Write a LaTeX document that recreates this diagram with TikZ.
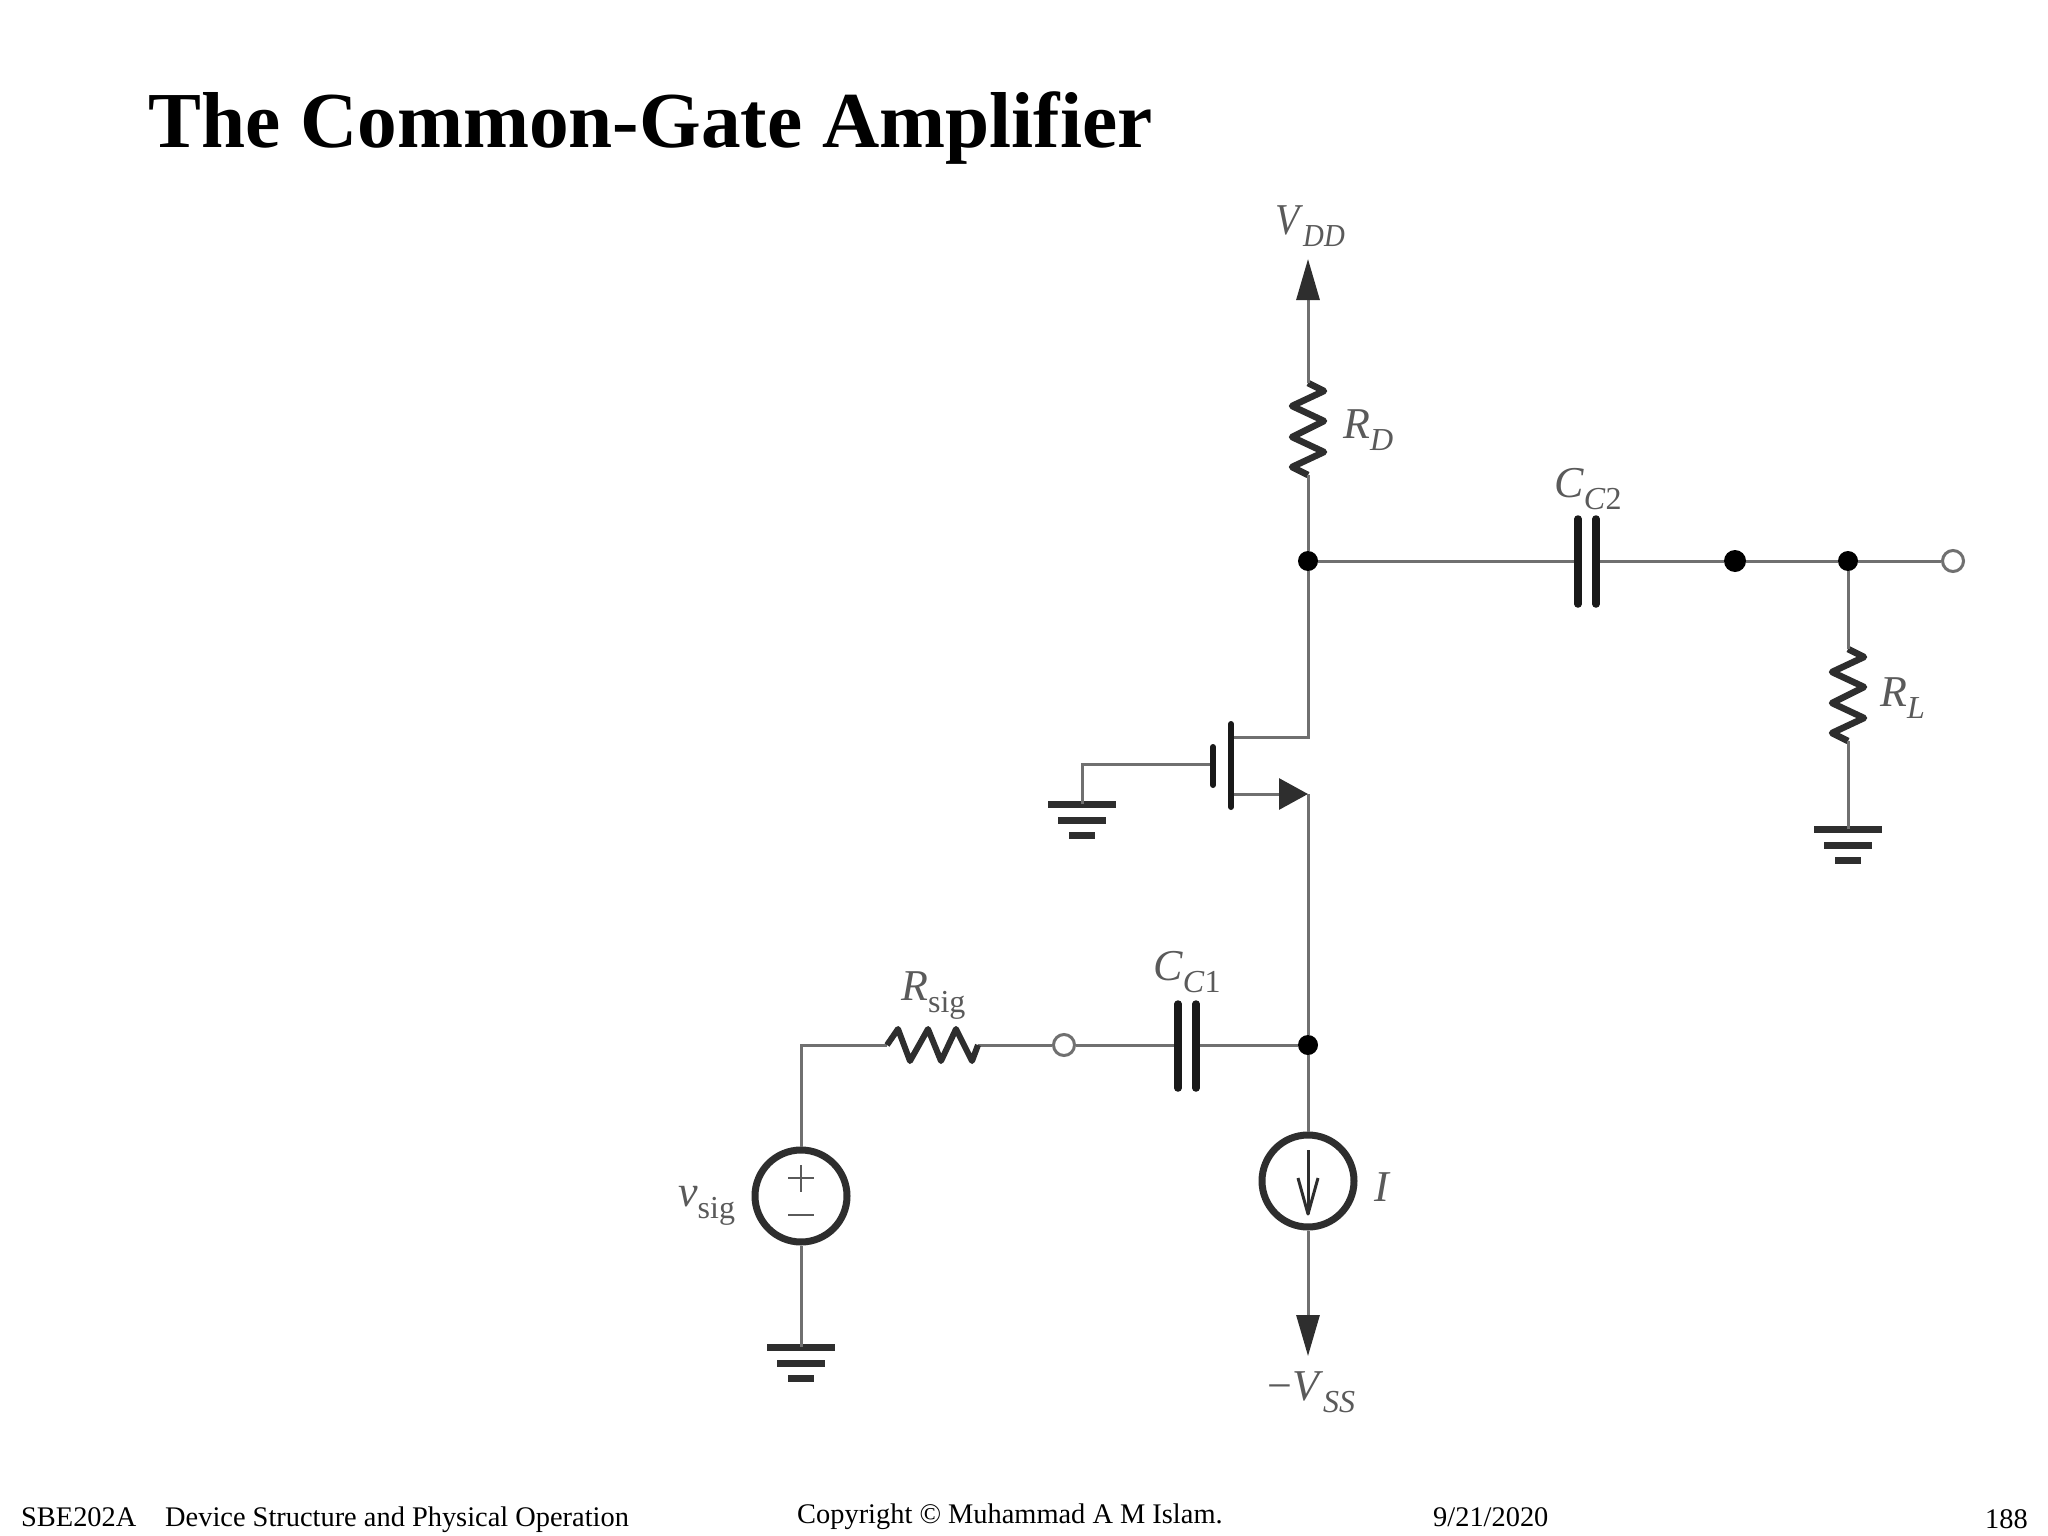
\documentclass[tikz,border=0pt]{standalone}
\usepackage{fontspec}
\setmainfont{Liberation Serif}
\usetikzlibrary{arrows.meta}
\definecolor{wirec}{HTML}{707070}
\definecolor{darkc}{HTML}{2E2E2E}
\definecolor{labc}{HTML}{5A5A5A}
\newcommand{\lab}[3][0.28em]{\fontsize{44}{50}\selectfont\textit{#2}\raisebox{-#1}{\fontsize{32}{36}\selectfont #3}}
\tikzset{
  x=1pt,y=-1pt,
  wire/.style={draw=wirec,line width=3pt},
  elem/.style={draw=darkc,line width=6.5pt,line join=round},
  plate/.style={draw=black!90,line width=7.5pt,line cap=round},
  dot/.style={circle,fill=black,inner sep=0pt,minimum size=#1},
  dot/.default=20pt,
  opendot/.style={circle,draw=wirec,fill=white,line width=3pt,inner sep=0pt,minimum size=21pt},
  src/.style={circle,draw=darkc,line width=7pt,inner sep=0pt,minimum size=92pt},
  lbl/.style={anchor=base west,inner sep=0pt,text=labc},
  foot/.style={anchor=base west,inner sep=0pt,font=\fontsize{28.4}{30}\selectfont},
  bigtip/.style={-{Triangle[length=41pt,width=23pt,color=darkc,fill=darkc]}},
  pics/vres/.style={code={
    \draw[elem] (0,-46) -- (16,-38) -- (-16,-23) -- (16,-8) -- (-16,8) -- (16,23) -- (-16,38) -- (0,46);
    \coordinate (-t) at (0,-46); \coordinate (-b) at (0,46);}},
  pics/gnd/.style={code={
    \draw[draw=darkc,line width=7pt] (-34,0) -- (34,0);
    \draw[draw=darkc,line width=7pt] (-24,16) -- (24,16);
    \draw[draw=darkc,line width=7pt] (-13,31) -- (13,31);
    \coordinate (-t) at (0,0);}}
}
\begin{document}
\begin{tikzpicture}
\useasboundingbox[fill=white] (0,0) rectangle (2048,1536);

% title and footer
\node[anchor=base west,inner sep=0pt,font=\fontsize{79.3}{88}\selectfont\bfseries] (title) at (148,148) {The Common-Gate Amplifier};
\node[foot] (f1) at (21,1526) {SBE202A};
\node[foot] (f2) at (165,1526) {Device Structure and Physical Operation};
\node[foot] (f3) at (797,1523) {Copyright © Muhammad A M Islam.};
\node[foot] (f4) at (1433,1526) {9/21/2020};
\node[foot] (f5) at (1985,1528) {188};

% key coordinates
\coordinate (vdd) at (1308,259);
\coordinate (vss) at (1308,1356);
\coordinate (corner) at (801,1045);
\coordinate (ggnd) at (1082,764);
\coordinate (drainc) at (1308,737);
\coordinate (srcc) at (1308,794);
\coordinate (chd) at (1231,737);
\coordinate (chs) at (1231,794);
\coordinate (gatep) at (1213,764);

% junctions
\node[dot] (nd) at (1308,561) {};
\node[dot=22pt] (no) at (1735,561) {};
\node[dot] (nl) at (1848,561) {};
\node[opendot] (out) at (1953,561) {};
\node[dot] (ns) at (1308,1045) {};
\node[opendot] (in) at (1064,1045) {};

% sources
\node[src] (vsig) at (801,1196) {};
\node[src] (isrc) at (1308,1181) {};

% resistors and grounds
\pic (rd) at (1308,429) {vres};
\pic (rl) at (1848,695) {vres};
\pic (g1) at (1082,804) {gnd};
\pic (g2) at (1848,829) {gnd};
\pic (g3) at (801,1347) {gnd};

% capacitors
\coordinate (c2a) at (1578,561); \coordinate (c2b) at (1596,561);
\coordinate (c1a) at (1178,1045); \coordinate (c1b) at (1196,1045);
\coordinate (rsa) at (887,1045); \coordinate (rsb) at (978,1045);

% wires
\draw[wire,bigtip] (rd-t) -- (vdd);
\draw[wire] (rd-b) -- (nd);
\draw[wire] (nd) -- (c2a);
\draw[wire] (c2b) -- (no);
\draw[wire] (no) -- (nl);
\draw[wire] (nl) -- (out);
\draw[wire] (nl) -- (rl-t);
\draw[wire] (rl-b) -- (g2-t);
\draw[wire] (nd) -- (drainc) -- (chd);
\draw[wire,-{Triangle[length=29pt,width=31pt,color=darkc,fill=darkc]}] (chs) -- (srcc);
\draw[wire] (srcc) -- (ns);
\draw[wire] (ns) -- (isrc);
\draw[wire,bigtip] (isrc) -- (vss);
\draw[wire] (ns) -- (c1b);
\draw[wire] (c1a) -- (in);
\draw[wire] (in) -- (rsb);
\draw[wire] (rsa) -- (corner) -- (vsig);
\draw[wire] (vsig) -- (g3-t);
\draw[wire] (gatep) -- (ggnd) -- (g1-t);

% Rsig
\draw[elem,line width=6pt] (rsa) -- (898,1029) -- (910,1061) -- (928,1029) -- (941,1061) -- (956,1029) -- (972,1061) -- (rsb);

% capacitor plates
\draw[plate] (1578,519) -- (1578,604);
\draw[plate] (1596,519) -- (1596,604);
\draw[plate] (1178,1004) -- (1178,1088);
\draw[plate] (1196,1004) -- (1196,1088);

% MOSFET
\draw[plate,line width=6pt] (1231,724) -- (1231,807);
\draw[plate,line width=6pt] (1213,747) -- (1213,785);

% source symbols
\draw[draw=labc,line width=2.5pt] (788,1178) -- (814,1178) (801,1165) -- (801,1192);
\draw[draw=labc,line width=2.5pt] (788,1215) -- (814,1215);
\draw[draw=darkc,line width=3pt] (1308,1150) -- (1308,1214);
\draw[draw=darkc,line width=3pt,line join=round] (1298,1178) -- (1308,1214) -- (1318,1178);

% labels
\node[lbl] (lvdd) at (1275,234) {\scalebox{0.9}[1]{\lab{V}{\textit{DD}}}};
\node[lbl] (lrd) at (1343,438) {\lab{R}{\textit{D}}};
\node[lbl] (lcc2) at (1554,497) {\lab{C}{\textit{C}2}};
\node[lbl] (lrl) at (1880,706) {\lab{R}{\textit{L}}};
\node[lbl] (lrs) at (901,1000) {\lab{R}{sig}};
\node[lbl] (lcc1) at (1153,980) {\lab{C}{\textit{C}1}};
\node[lbl] (lvs) at (678,1206) {\lab{v}{sig}};
\node[lbl] (li) at (1374,1201) {\lab{I}{}};
\node[lbl] (lvss) at (1267,1400) {\fontsize{44}{50}\selectfont −\lab{V}{\textit{SS}}};
\end{tikzpicture}
\end{document}
